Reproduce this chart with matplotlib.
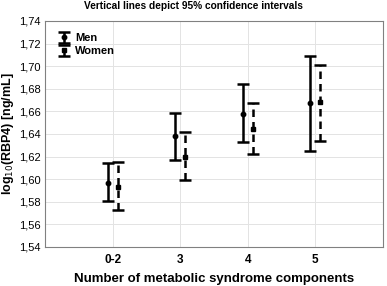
import numpy as np
import matplotlib
matplotlib.use("Agg")
import matplotlib.pyplot as plt
from matplotlib.ticker import FuncFormatter

plt.rcParams["font.family"] = ["Liberation Sans", "DejaVu Sans"]

categories = ["0-2", "3", "4", "5"]
men_mean = [1.597, 1.638, 1.658, 1.667]
men_lo = [1.581, 1.617, 1.633, 1.625]
men_hi = [1.614, 1.659, 1.684, 1.709]
women_mean = [1.593, 1.620, 1.644, 1.668]
women_lo = [1.573, 1.599, 1.622, 1.634]
women_hi = [1.615, 1.642, 1.667, 1.701]

fig = plt.figure(figsize=(3.87, 2.86), dpi=100)
ax = fig.add_axes([45 / 387, 39 / 286, 338 / 387, 226 / 286])

x = np.arange(1, len(categories) + 1)
off = 0.075

m = np.array(men_mean)
em = [m - np.array(men_lo), np.array(men_hi) - m]
h1 = ax.errorbar(x - off, m, yerr=em, fmt="o", color="black", ms=3.2,
                 elinewidth=1.8, capsize=4, capthick=1.8, zorder=3)

w = np.array(women_mean)
ew = [w - np.array(women_lo), np.array(women_hi) - w]
h2 = ax.errorbar(x + off, w, yerr=ew, fmt="s", color="black", ms=3.2,
                 elinewidth=1.8, capsize=4, capthick=1.8, zorder=3)
h2[2][0].set_linestyle((0, (3, 2)))

ax.set_xlim(0, 5)
ax.set_ylim(1.54, 1.74)
ax.set_xticks(x)
ax.set_xticklabels(categories, fontsize=8.5, fontweight="bold")
ax.set_yticks(np.arange(1.54, 1.7401, 0.02))
ax.yaxis.set_major_formatter(FuncFormatter(lambda v, p: f"{v:.2f}".replace(".", ",")))
ax.tick_params(axis="y", labelsize=8, length=0, pad=3)
ax.tick_params(axis="x", length=0, pad=5)
ax.grid(True, color="#e3e3e3", lw=0.7)
ax.set_axisbelow(True)
for sp in ax.spines.values():
    sp.set_color("#808080")
    sp.set_linewidth(0.8)

ax.set_ylabel("log$_{10}$(RBP4) [ng/mL]", fontsize=9, fontweight="bold", labelpad=2)
ax.set_xlabel("Number of metabolic syndrome components", fontsize=9.5,
              fontweight="bold", labelpad=5)
fig.text(0.5, 1 - 6 / 286, "Vertical lines depict 95% confidence intervals",
         ha="center", va="center", fontsize=7.3, fontweight="bold")

leg = ax.legend([h1, h2], ["Men", "Women"], loc="upper left", frameon=False,
                prop={"weight": "bold", "size": 8},
                handlelength=1.2, handletextpad=0.4, labelspacing=0.25,
                borderaxespad=0.7)

fig.savefig("out.png", dpi=100)
